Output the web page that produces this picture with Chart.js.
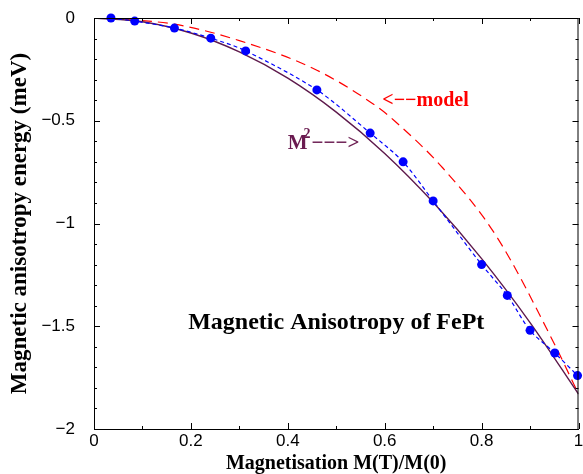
<!DOCTYPE html>
<html><head><meta charset="utf-8">
<script src="https://cdn.jsdelivr.net/npm/chart.js@4/dist/chart.umd.min.js"></script>
<style>html,body{margin:0;padding:0;background:#fff;overflow:hidden}</style>
</head><body>
<canvas id="c" width="583" height="474"></canvas>
<script>
// Data
const dataM  = [0.035, 0.084, 0.166, 0.241, 0.313, 0.46, 0.57, 0.638, 0.70, 0.80, 0.853, 0.90, 0.951, 0.998];
const dataE  = [0, -0.015, -0.049, -0.098, -0.16, -0.35, -0.56, -0.70, -0.89, -1.20, -1.35, -1.52, -1.63, -1.74];
const m2M    = [0, 0.1, 0.2, 0.3, 0.4, 0.5, 0.6, 0.7, 0.8, 0.9, 1.0];
const m2E    = [0, -0.018, -0.073, -0.165, -0.293, -0.458, -0.659, -0.897, -1.171, -1.482, -1.83];
const modelM = [0, 0.08, 0.166, 0.3, 0.46, 0.585, 0.62, 0.72, 0.83, 0.95, 1.0];
const modelE = [0, -0.01, -0.03, -0.11, -0.254, -0.433, -0.50, -0.73, -1.06, -1.585, -1.83];
const xTicks = [0, 0.2, 0.4, 0.6, 0.8, 1];
const yTicks = [0, -0.5, -1, -1.5, -2];

const toXY = (xs, ys) => xs.map((x, i) => ({x, y: ys[i]}));
const fmt = v => (v < 0 ? '\u2212' : '') + String(Math.abs(v));

const tickPlugin = {
  id: 'innerTicks',
  afterDatasetsDraw(chart) {
    const {ctx, chartArea: a, scales: {x, y}} = chart;
    ctx.save();
    ctx.strokeStyle = '#000';
    ctx.lineWidth = 1;
    ctx.beginPath();
    ctx.moveTo(a.left, a.top + 0.5); ctx.lineTo(a.right, a.top + 0.5);
    ctx.moveTo(a.right - 0.5, a.top); ctx.lineTo(a.right - 0.5, a.bottom);
    for (let i = 0; i <= 10; i++) {
      const v = i / 10;
      const px = Math.round(x.getPixelForValue(v)) + 0.5;
      const len = i % 2 === 0 ? 6 : 3;
      ctx.moveTo(px, a.bottom); ctx.lineTo(px, a.bottom - len);
      ctx.moveTo(px, a.top); ctx.lineTo(px, a.top + len);
    }
    for (let i = 0; i <= 20; i++) {
      const v = -i / 10;
      const py = Math.round(y.getPixelForValue(v)) + 0.5;
      const len = i % 5 === 0 ? 6 : 3;
      ctx.moveTo(a.left, py); ctx.lineTo(a.left + len, py);
      ctx.moveTo(a.right, py); ctx.lineTo(a.right - len, py);
    }
    ctx.stroke();
    ctx.restore();
  },
  afterDraw(chart) {
    const {ctx, scales: {x, y}} = chart;
    ctx.save();
    ctx.textBaseline = 'middle';
    ctx.fillStyle = '#000';
    ctx.font = 'bold 24px "Liberation Serif"';
    ctx.textAlign = 'center';
    ctx.fillText('Magnetic Anisotropy of FePt', x.getPixelForValue(0.5), y.getPixelForValue(-1.484));
    ctx.textAlign = 'left';
    ctx.fillStyle = '#ff0000';
    ctx.font = 'bold 20px "Liberation Serif"';
    ctx.fillText('<\u2212\u2212model', x.getPixelForValue(0.595), y.getPixelForValue(-0.404));
    ctx.fillStyle = '#6a1b50';
    const mx = x.getPixelForValue(0.400), my = y.getPixelForValue(-0.61);
    ctx.font = 'bold 21px "Liberation Serif"';
    ctx.fillText('M', mx, my);
    const w = ctx.measureText('M').width;
    ctx.font = 'bold 14px "Liberation Serif"';
    ctx.fillText('2', mx + w - 4, my - 9);
    ctx.font = 'bold 21px "Liberation Serif"';
    ctx.fillText('\u2212\u2212\u2212>', mx + w + 4, my);
    ctx.restore();
  }
};

new Chart(document.getElementById('c'), {
  type: 'scatter',
  data: {
    datasets: [
      {
        label: 'data', data: toXY(dataM, dataE), showLine: true,
        borderColor: '#0000ff', borderWidth: 1.2, borderDash: [4, 3], tension: 0.3,
        pointRadius: 4.5, pointBackgroundColor: '#0000ff', pointBorderWidth: 0,
        clip: false
      },
      {
        label: 'M2', data: toXY(m2M, m2E), showLine: true,
        borderColor: '#5e1a4c', borderWidth: 1.4, cubicInterpolationMode: 'monotone',
        pointRadius: 0
      },
      {
        label: 'model', data: toXY(modelM, modelE), showLine: true,
        borderColor: '#ff0000', borderWidth: 1.2, borderDash: [10, 6], cubicInterpolationMode: 'monotone',
        pointRadius: 0
      }
    ]
  },
  options: {
    responsive: false, animation: false,
    layout: {padding: {top: 18, right: 1, left: 0, bottom: 0}},
    plugins: {legend: {display: false}, tooltip: {enabled: false}},
    scales: {
      x: {
        type: 'linear', min: 0, max: 1,
        grid: {display: false},
        border: {display: true, color: '#000', width: 1},
        afterBuildTicks: s => { s.ticks = xTicks.map(v => ({value: v})); },
        afterFit: s => { s.height = 45; s.paddingLeft = 0; s.paddingRight = 0; },
        ticks: {autoSkip: false, maxRotation: 0, padding: -6, color: '#000',
          font: {family: '"Liberation Sans"', size: 17}, callback: v => fmt(v)},
        title: {display: true, text: 'Magnetisation M(T)/M(0)', color: '#000',
          font: {family: '"Liberation Serif"', size: 20, weight: 'bold'}, padding: {top: 0, bottom: -2}}
      },
      y: {
        type: 'linear', min: -2, max: 0,
        grid: {display: false},
        border: {display: true, color: '#000', width: 1},
        afterBuildTicks: s => { s.ticks = yTicks.map(v => ({value: v})); },
        afterFit: s => { s.width = 94; s.paddingTop = 0; s.paddingBottom = 0; },
        ticks: {autoSkip: false, padding: 11, color: '#000',
          font: {family: '"Liberation Sans"', size: 17}, callback: v => fmt(v)},
        title: {display: true, text: 'Magnetic anisotropy energy (meV)', color: '#000',
          font: {family: '"Liberation Serif"', size: 23, weight: 'bold'}, padding: {top: 6, bottom: 0}}
      }
    }
  },
  plugins: [tickPlugin]
});
</script>
</body></html>
